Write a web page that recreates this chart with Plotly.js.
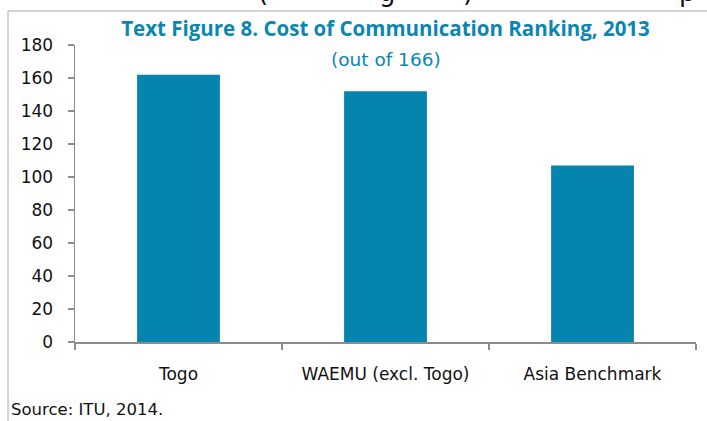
<!DOCTYPE html>
<html>
<head>
<meta charset="utf-8">
<script src="https://cdn.plot.ly/plotly-3.0.1.min.js"></script>
<style>html,body{margin:0;padding:0;background:#fff;}#chart{width:707px;height:421px;}</style>
</head>
<body>
<div id="chart"></div>
<script>
const categories = ["Togo", "WAEMU (excl. Togo)", "Asia Benchmark"];
const ranking = [162, 152, 107];
const yTicks = [0, 20, 40, 60, 80, 100, 120, 140, 160, 180];
const titleText = "Text Figure 8. Cost of Communication Ranking, 2013";
const subtitleText = "(out of 166)";
const sourceText = "Source: ITU, 2014.";
const cutGlyphs = ["(", "g", ")", "p"];

const W = 707, H = 421;
const L = 75, R = 11, T = 45, B = 79;
const pw = W - L - R, ph = H - T - B;
const px2x = p => (p - L) / pw;
const py2y = p => (H - B - p) / ph;

const glyphX = [263, 387, 468, 687];
const annotations = [
  {text: subtitleText, xref: 'paper', yref: 'paper', x: 0.5, y: py2y(59), xanchor: 'center', yanchor: 'middle',
   showarrow: false, font: {family: 'DejaVu Sans', size: 18.5, color: '#0a86b4'}},
  {text: sourceText, xref: 'paper', yref: 'paper', x: px2x(9), y: py2y(409), xanchor: 'left', yanchor: 'middle',
   showarrow: false, font: {family: 'DejaVu Sans', size: 16.5, color: '#111'}}
];
cutGlyphs.forEach((g, i) => annotations.push({
  text: g, xref: 'paper', yref: 'paper', x: px2x(glyphX[i]), y: py2y(-8), xanchor: 'center', yanchor: 'middle',
  showarrow: false, font: {family: 'DejaVu Sans', size: 26, color: '#111'}
}));

const data = [{
  type: 'bar', x: categories, y: ranking,
  marker: {color: '#0584b0', line: {width: 0}},
  hoverinfo: 'skip'
}];

const layout = {
  width: W, height: H,
  margin: {l: L, r: R, t: T, b: B, pad: 0},
  paper_bgcolor: '#fff', plot_bgcolor: '#fff',
  showlegend: false,
  bargap: 0.6,
  title: {text: '<b>' + titleText + '</b>', x: 385.5 / W, xanchor: 'center',
          y: 1 - 29 / H, yanchor: 'middle',
          font: {family: 'Open Sans', size: 20.5, color: '#0a86b4'}},
  xaxis: {type: 'category', showgrid: false, zeroline: false, showline: true, linecolor: '#8c8c8c', linewidth: 1.5,
          ticks: 'outside', tickson: 'boundaries', ticklen: 6, tickcolor: '#8c8c8c', tickwidth: 1.5,
          ticklabelstandoff: 16,
          tickfont: {family: 'DejaVu Sans', size: 17, color: '#111'}},
  yaxis: {range: [0, 180], tickvals: yTicks, showgrid: false, zeroline: false, showline: true,
          linecolor: '#8c8c8c', linewidth: 1.5, ticks: 'outside', ticklen: 6, tickcolor: '#8c8c8c', tickwidth: 1.5,
          ticklabelstandoff: 11,
          tickfont: {family: 'DejaVu Sans', size: 17, color: '#111'}},
  shapes: [
    {type: 'line', xref: 'paper', yref: 'paper', x0: px2x(8), x1: px2x(707), y0: py2y(11), y1: py2y(11),
     line: {color: '#c4c4c4', width: 1.5}},
    {type: 'line', xref: 'paper', yref: 'paper', x0: px2x(8), x1: px2x(8), y0: py2y(11), y1: py2y(421),
     line: {color: '#c4c4c4', width: 1.5}}
  ],
  annotations: annotations
};

Plotly.newPlot('chart', data, layout, {staticPlot: true, displayModeBar: false});
</script>
</body>
</html>
